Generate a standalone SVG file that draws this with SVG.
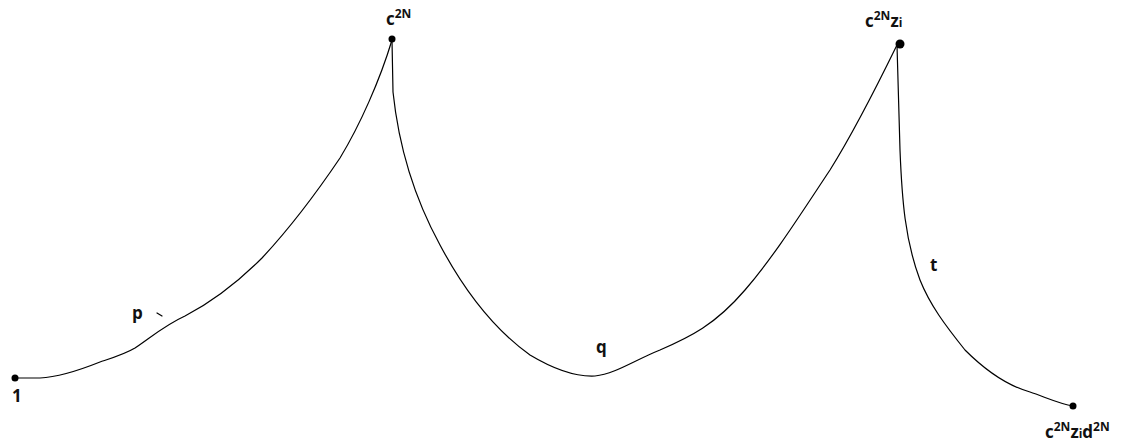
<svg xmlns="http://www.w3.org/2000/svg" width="1126" height="447" viewBox="0 0 1126 447">
<style>
.c{fill:none;stroke:#000;stroke-width:1.2;stroke-linejoin:round;stroke-linecap:round}
.d{fill:#000}
text{font-family:"Open Sans","Liberation Sans",sans-serif;font-weight:bold;fill:#111;font-size:17px}
.s{font-size:12px}
</style>
<rect width="1126" height="447" fill="#fff"/>
<g id="connectors">
<path class="c" d="M15,378 L40,378 C60,377 80,370 100,362 C115,357 125,354 135,348 C150,338 165,325 185,316 C210,303 235,285 262,258 C290,228 315,195 340,158 C360,125 380,80 392,40"/>
<path class="c" d="M392,40 L393,92 C398,140 410,190 440,245 C465,292 495,330 530,355 C555,370 575,377 595,376 C615,374 635,360 660,350 C690,337 715,325 745,290 C775,255 800,215 830,170 C855,130 875,90 897,45"/>
<path class="c" d="M897,45 L900,150 C902,200 905,240 920,280 C930,305 945,325 965,350 C985,370 1005,385 1030,392 C1045,397 1060,404 1073,406"/>
<path class="c" d="M157,313 L162,316"/>
</g>
<g id="n1"><circle class="d" cx="15" cy="378" r="3.5"/><text x="12" y="402">1</text></g>
<g id="nc2n"><circle class="d" cx="392" cy="39" r="3.5"/><text x="386" y="25">c<tspan class="s" dy="-7">2N</tspan></text></g>
<g id="nc2nzi"><circle class="d" cx="900" cy="44" r="4.5"/><text x="865" y="27">c<tspan class="s" dy="-7">2N</tspan><tspan dy="7">z</tspan><tspan class="s">i</tspan></text></g>
<g id="nend"><circle class="d" cx="1073" cy="406" r="3.5"/><text x="1045" y="438">c<tspan class="s" dy="-7">2N</tspan><tspan dy="7">z</tspan><tspan class="s">i</tspan>d<tspan class="s" dy="-7">2N</tspan></text></g>
<g id="lp"><text x="132" y="319">p</text></g>
<g id="lq"><text x="596" y="353">q</text></g>
<g id="lt"><text x="930" y="271">t</text></g>
</svg>
